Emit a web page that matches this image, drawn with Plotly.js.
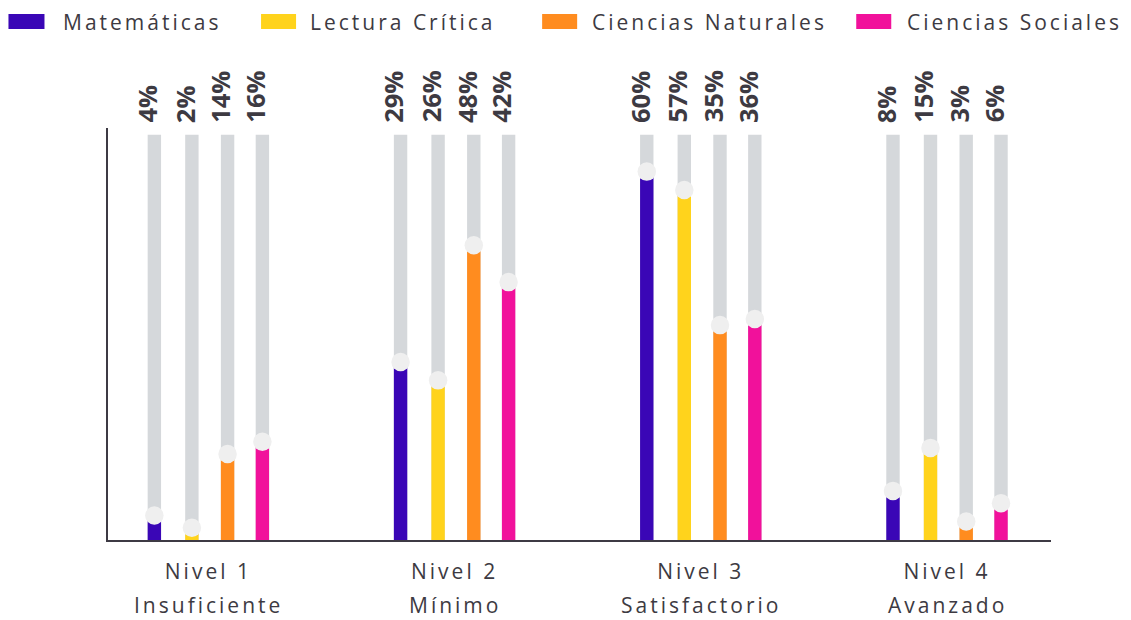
<!DOCTYPE html>
<html>
<head>
<meta charset="utf-8">
<script src="https://cdn.plot.ly/plotly-3.0.1.min.js"></script>
<style>
  html, body { margin: 0; padding: 0; background: #ffffff; }
  #chart { width: 1131px; height: 620px; }
</style>
</head>
<body>
<div id="chart"></div>
<script>
// ---------- data ----------
const levels = ["Nivel 1", "Nivel 2", "Nivel 3", "Nivel 4"];
const levelDescriptions = ["Insuficiente", "Mínimo", "Satisfactorio", "Avanzado"];
const subjects = ["Matemáticas", "Lectura Crítica", "Ciencias Naturales", "Ciencias Sociales"];
const matematicas = [4, 29, 60, 8];
const lecturaCritica = [2, 26, 57, 15];
const cienciasNaturales = [14, 48, 35, 3];
const cienciasSociales = [16, 42, 36, 6];
const trackMax = 66;

// ---------- style ----------
const seriesValues = [matematicas, lecturaCritica, cienciasNaturales, cienciasSociales];
const colors = ["#3a06b6", "#ffd31c", "#ff8c1f", "#f1119b"];
const trackColor = "#d5d8db";
const dotColor = "#efefef";
const textColor = "#3d3a42";
const FONT = "Open Sans, sans-serif";
const spaced = s => '<span style="letter-spacing:3px">' + s + '</span>';
const offsets = [-0.2194, -0.0670, 0.0780, 0.2194];
const barWidth = 0.0544;

const idx = levels.map((_, i) => i);
const traces = [];

// grey tracks
seriesValues.forEach((vals, j) => {
  traces.push({
    type: "bar",
    x: idx.map(i => i + offsets[j]),
    y: idx.map(() => trackMax),
    width: barWidth,
    marker: { color: trackColor, line: { width: 0 } },
    hoverinfo: "skip",
    showlegend: false
  });
});
// coloured bars
seriesValues.forEach((vals, j) => {
  traces.push({
    type: "bar",
    name: subjects[j],
    x: idx.map(i => i + offsets[j]),
    y: vals,
    width: barWidth,
    marker: { color: colors[j], line: { width: 0 } },
    showlegend: false
  });
});
// dots
seriesValues.forEach((vals, j) => {
  traces.push({
    type: "scatter",
    mode: "markers",
    x: idx.map(i => i + offsets[j]),
    y: vals,
    marker: { color: dotColor, size: 18.5, line: { width: 0 } },
    hoverinfo: "skip",
    showlegend: false,
    cliponaxis: false
  });
});

const annotations = [];
// percent labels
seriesValues.forEach((vals, j) => {
  vals.forEach((v, i) => {
    annotations.push({
      x: i + offsets[j], y: trackMax, xref: "x", yref: "y",
      text: "<b>" + v + "%</b>", showarrow: false,
      textangle: -90, xanchor: "center", yanchor: "bottom",
      yshift: 10, xshift: -7.5,
      font: { family: FONT, size: 25.5, color: textColor }
    });
  });
});
// second line of category labels
levelDescriptions.forEach((d, i) => {
  annotations.push({
    x: i, y: 0, xref: "x", yref: "paper",
    text: spaced(d), showarrow: false, xanchor: "center", yanchor: "middle",
    yshift: -65,
    font: { family: FONT, size: 21, color: textColor }
  });
});

// manual legend
const legendRects = [[8.5, 44.5], [261, 296], [542, 577], [856, 891]];
const legendTextX = [61, 308, 590, 905];
const shapes = [];
subjects.forEach((s, j) => {
  shapes.push({
    type: "rect", xref: "paper", yref: "paper",
    x0: (legendRects[j][0] - 108) / 942.7, x1: (legendRects[j][1] - 108) / 942.7,
    y0: (540 - 14) / 412, y1: (540 - 29) / 412,
    fillcolor: colors[j], line: { width: 0 }
  });
  annotations.push({
    x: (legendTextX[j] - 108) / 942.7, y: (540 - 22) / 412, xref: "paper", yref: "paper",
    text: spaced(s), showarrow: false, xanchor: "left", yanchor: "middle",
    font: { family: FONT, size: 21, color: textColor }
  });
});

const layout = {
  width: 1131, height: 620,
  margin: { l: 108, r: 80.3, t: 128, b: 80, pad: 0 },
  paper_bgcolor: "#ffffff", plot_bgcolor: "#ffffff",
  barmode: "overlay",
  showlegend: false,
  xaxis: {
    range: [-0.4077, 3.4224],
    tickvals: idx, ticktext: levels.map(spaced),
    ticks: "", showgrid: false, zeroline: false,
    ticklabelstandoff: 12,
    showline: true, linecolor: "#3d3a44", linewidth: 2,
    tickfont: { family: FONT, size: 21, color: textColor },
    fixedrange: true
  },
  yaxis: {
    range: [0, 67.1],
    showticklabels: false, ticks: "", showgrid: false, zeroline: false,
    showline: true, linecolor: "#3d3a44", linewidth: 2,
    fixedrange: true
  },
  annotations: annotations,
  shapes: shapes
};

Plotly.newPlot("chart", traces, layout, { displayModeBar: false, responsive: false });
</script>
</body>
</html>
